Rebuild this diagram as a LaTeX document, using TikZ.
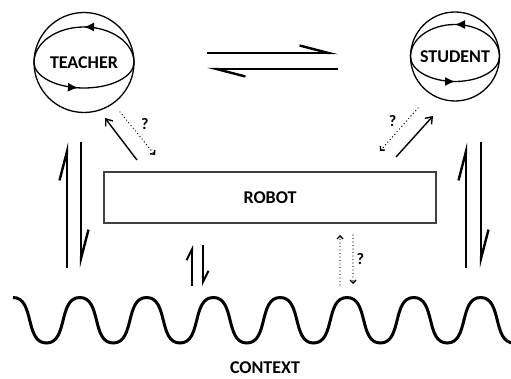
\documentclass[tikz,border=0pt]{standalone}
\usepackage{fontspec}
\setmainfont{Carlito}
\usetikzlibrary{arrows.meta,decorations.markings}
\tikzset{
  agent/.style     = {circle, draw, line width=1.3pt, inner sep=0pt, outer sep=0pt},
  robot-box/.style = {rectangle, draw=black!75, line width=1.5pt, minimum width=332pt, minimum height=51pt},
  orbit/.style     = {line width=1.3pt, postaction={decorate},
                      decoration={markings, mark=at position #1 with {\arrow{Latex[length=10pt,width=9pt]}}}},
  harp/.style      = {line width=2.4pt, -{Straight Barb[left,length=29pt,width=15pt]}},
  small-harp/.style= {line width=2pt, -{Straight Barb[left,length=11pt,width=11pt]}},
  link/.style      = {line width=1.4pt, -{Straight Barb[length=6pt,width=9pt]}},
  guess/.style     = {line width=1.4pt, dash pattern=on 0pt off 3.5pt, line cap=round,
                      -{Straight Barb[length=3pt,width=6pt]}},
  qmark/.style     = {font=\bfseries\fontsize{16}{16}\selectfont, inner sep=1pt},
  ctx-wave/.style  = {line width=3pt},
}
\begin{document}
\begin{tikzpicture}
  [
    x = 1pt, y = 1pt,
    every node/.style = {font=\bfseries\fontsize{18}{18}\selectfont}
  ]
  \useasboundingbox (0,0) rectangle (511,-379);
  \node [agent, minimum size=100pt] (teacher) at (84,-62.5) {TEACHER};
  \node [agent, minimum size=89pt]  (student) at (455,-56.5) {STUDENT};
  \node [robot-box] (robot) at (270,-197.5) {ROBOT};
  \node (context) at (265,-368) {CONTEXT};
  % orbits
  \draw [orbit=0.5]  (teacher.east) arc [start angle=0, end angle=180, x radius=50, y radius=35.5];
  \draw [orbit=0.45] (teacher.west) arc [start angle=180, end angle=360, x radius=50, y radius=25.5];
  \draw [orbit=0.5]  (student.east) arc [start angle=0, end angle=180, x radius=44.5, y radius=32];
  \draw [orbit=0.5]  (student.west) arc [start angle=180, end angle=360, x radius=44.5, y radius=25];
  % free ends
  \coordinate (ts1) at (207,-53);  \coordinate (ts2) at (338,-53);
  \coordinate (st1) at (338,-69);  \coordinate (st2) at (207,-69);
  \coordinate (tc1) at (67,-268);  \coordinate (tc2) at (67,-142);
  \coordinate (ct1) at (81,-142);  \coordinate (ct2) at (81,-268);
  \coordinate (sc1) at (466,-268); \coordinate (sc2) at (466,-142);
  \coordinate (cs1) at (481,-142); \coordinate (cs2) at (481,-268);
  \coordinate (rc1) at (192,-286); \coordinate (rc2) at (192,-245);
  \coordinate (cr1) at (203,-245); \coordinate (cr2) at (203,-286);
  \coordinate (rg1) at (340,-285); \coordinate (rg2) at (340,-235);
  \coordinate (cg1) at (353,-235); \coordinate (cg2) at (353,-284);
  \coordinate (rt1) at (137,-160); \coordinate (rt2) at (105,-118);
  \coordinate (tg1) at (120,-112); \coordinate (tg2) at (155,-155);
  \coordinate (rs1) at (396,-157); \coordinate (rs2) at (433,-116);
  \coordinate (sg1) at (418,-108); \coordinate (sg2) at (380,-151);
  % harpoons
  \draw [harp] (ts1) -- (ts2);
  \draw [harp] (st1) -- (st2);
  \draw [harp] (tc1) -- (tc2);
  \draw [harp] (ct1) -- (ct2);
  \draw [harp] (sc1) -- (sc2);
  \draw [harp] (cs1) -- (cs2);
  \draw [small-harp] (rc1) -- (rc2);
  \draw [small-harp] (cr1) -- (cr2);
  % robot links
  \draw [link] (rt1) -- (rt2);
  \draw [guess] (tg1) -- node [qmark, above right=2pt] {?} (tg2);
  \draw [link] (rs1) -- (rs2);
  \draw [guess] (sg1) -- node [qmark, above left=1pt] {?} (sg2);
  \draw [guess] (rg1) -- (rg2);
  \draw [guess] (cg1) -- node [qmark, right=2pt] {?} (cg2);
  % context
  \draw [ctx-wave] (13,-297.5)
    foreach \i in {1,...,7} { .. controls +(22,0) and +(-22,0) .. ++(33.4,-45.5)
                              .. controls +(22,0) and +(-22,0) .. ++(33.4,45.5) }
    .. controls +(22,0) and +(-22,0) .. ++(33.4,-45.5);
\end{tikzpicture}
\end{document}
